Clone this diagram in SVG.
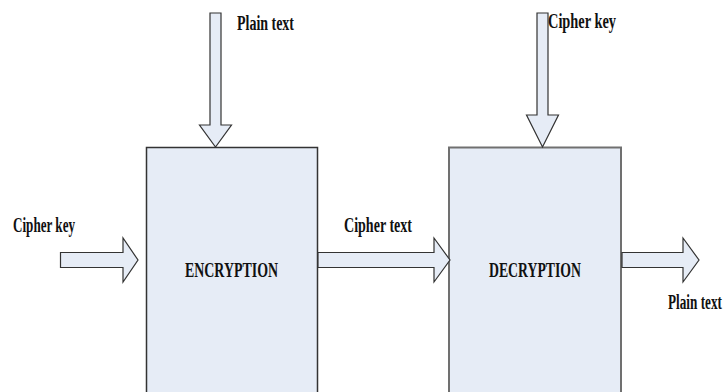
<svg xmlns="http://www.w3.org/2000/svg" width="725" height="392" viewBox="0 0 725 392">
<style>
.bg{fill:#ffffff}
.box{fill:#e6ecf6;stroke:#333333;stroke-width:1.5}
.box2{fill:#e6ecf6;stroke:#707070;stroke-width:2}
.arr{fill:#e6ecf6;stroke:#333333;stroke-width:1.2;stroke-linejoin:miter}
.t{font-family:"Liberation Serif","Times New Roman",serif;font-weight:bold;font-size:20px;fill:#111111}
</style>
<rect class="bg" x="0" y="0" width="725" height="392"/>
<g id="encryption">
<rect class="box" x="146.5" y="147.5" width="171" height="260"/>
<text class="t" x="185" y="277" textLength="93" lengthAdjust="spacingAndGlyphs">ENCRYPTION</text>
</g>
<g id="decryption">
<rect class="box2" x="449" y="147.5" width="172" height="260"/>
<text class="t" x="489" y="277" textLength="92" lengthAdjust="spacingAndGlyphs">DECRYPTION</text>
</g>
<g id="connectors">
<polygon class="arr" points="210,13 221,13 221,125 231.5,125 215.5,147 199.5,125 210,125"/>
<polygon class="arr" points="537,13 548,13 548,115 558.5,115 542.5,147 526.5,115 537,115"/>
<polygon class="arr" points="60.5,252.5 123,252.5 123,238 138,260 123,282 123,267.5 60.5,267.5"/>
<polygon class="arr" points="318,252.5 434,252.5 434,238 450,260 434,282 434,267.5 318,267.5"/>
<polygon class="arr" points="622,252.5 683,252.5 683,238 699,260 683,282 683,267.5 622,267.5"/>
</g>
<g id="labels">
<text class="t" x="237" y="30" textLength="57" lengthAdjust="spacingAndGlyphs">Plain text</text>
<text class="t" x="548" y="28" textLength="68" lengthAdjust="spacingAndGlyphs">Cipher key</text>
<text class="t" x="13" y="232" textLength="62" lengthAdjust="spacingAndGlyphs">Cipher key</text>
<text class="t" x="344" y="232" textLength="68" lengthAdjust="spacingAndGlyphs">Cipher text</text>
<text class="t" transform="translate(668,309) scale(0.66,1)" x="0" y="0">Plain text</text>
</g>
</svg>
